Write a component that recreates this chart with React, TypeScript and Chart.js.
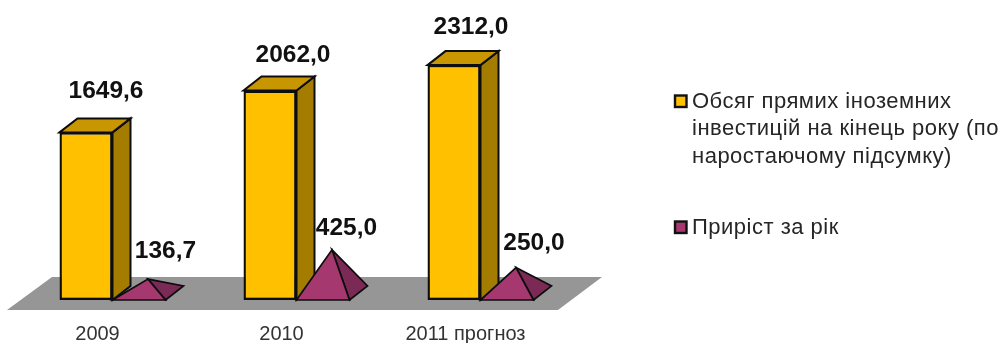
import React, { useEffect, useRef } from "react";
import { Chart, registerables } from "chart.js";

Chart.register(...registerables);

const categories = ["2009", "2010", "2011 прогноз"];
const investmentName = ["Обсяг прямих іноземних", "інвестицій на кінець року (по", "наростаючому підсумку)"];
const growthName = ["Приріст за рік"];
const investmentValues = [1649.6, 2062.0, 2312.0];
const growthValues = [136.7, 425.0, 250.0];

const barLabelNudge = [[20, -41.5], [23, -35], [17, -38]];
const pyramidLabelNudge = [[26.5, -28], [23.5, -22], [27, -24.5]];
const DEPTH_X = 18;
const DEPTH_Y = -14;
const PX_PER_UNIT = 0.1016;
const FONT = '"Liberation Sans", Arial, sans-serif';

const fmt = (v: number) => v.toFixed(1).replace(".", ",");

function poly(ctx: CanvasRenderingContext2D, pts: number[][], fill: string, lw: number, stroke = "#0d0d0d") {
  ctx.beginPath();
  pts.forEach((p, i) => (i ? ctx.lineTo(p[0], p[1]) : ctx.moveTo(p[0], p[1])));
  ctx.closePath();
  ctx.fillStyle = fill;
  ctx.fill();
  if (lw > 0) {
    ctx.lineWidth = lw;
    ctx.strokeStyle = stroke;
    ctx.lineJoin = "miter";
    ctx.stroke();
  }
}

const scene3d = {
  id: "scene3d",
  beforeDatasetsDraw(chart: any) {
    const { ctx, chartArea: a } = chart;
    const base = a.bottom;
    ctx.save();
    poly(ctx, [
      [a.left - 13.5, base + 10],
      [a.left + 31.5, base - 23],
      [a.right + 29.5, base - 23],
      [a.right - 14.5, base + 10],
    ], "#969696", 0);
    chart.getDatasetMeta(0).data.forEach((el: any) => {
      const l = el.x - el.width / 2;
      const r = el.x + el.width / 2;
      poly(ctx, [[r, el.y], [r + DEPTH_X, el.y + DEPTH_Y], [r + DEPTH_X, el.base + DEPTH_Y], [r, el.base]], "#A37C00", 2);
      poly(ctx, [[l, el.y], [l + DEPTH_X, el.y + DEPTH_Y], [r + DEPTH_X, el.y + DEPTH_Y], [r, el.y]], "#C79600", 2);
    });
    ctx.restore();
  },
  afterDatasetsDraw(chart: any) {
    const { ctx } = chart;
    ctx.save();
    chart.getDatasetMeta(1).data.forEach((el: any) => {
      const l = el.x - el.width / 2;
      const r = el.x + el.width / 2;
      const b = el.base;
      const ax = el.x + DEPTH_X / 2;
      const ay = el.y + DEPTH_Y / 2;
      const apex = [ax, ay];
      poly(ctx, [[r, b], [r + DEPTH_X, b + DEPTH_Y], apex], "#7B2A56", 1.7);
      poly(ctx, [[l, b], [r, b], apex], "#A5386F", 1.7);
    });
    ctx.textAlign = "center";
    ctx.textBaseline = "middle";
    ctx.fillStyle = "#111";
    ctx.font = `bold 24.5px ${FONT}`;
    chart.getDatasetMeta(0).data.forEach((el: any, i: number) => {
      ctx.fillText(fmt(investmentValues[i]), el.x + barLabelNudge[i][0], el.y + barLabelNudge[i][1]);
    });
    chart.getDatasetMeta(1).data.forEach((el: any, i: number) => {
      ctx.fillText(fmt(growthValues[i]), el.x + pyramidLabelNudge[i][0], el.y + DEPTH_Y / 2 + pyramidLabelNudge[i][1]);
    });
    ctx.restore();
  },
  afterDraw(chart: any) {
    const { ctx } = chart;
    ctx.save();
    ctx.font = `22px ${FONT}`;
    ctx.textAlign = "left";
    ctx.textBaseline = "middle";
    (ctx as any).letterSpacing = "0.5px";
    const entries = [
      { lines: investmentName, color: "#FFC000", y: 101 },
      { lines: growthName, color: "#A5386F", y: 227 },
    ];
    entries.forEach((e) => {
      ctx.fillStyle = e.color;
      ctx.strokeStyle = "#111";
      ctx.lineWidth = 2.4;
      ctx.fillRect(675, e.y - 5.5, 11.5, 11.5);
      ctx.strokeRect(675, e.y - 5.5, 11.5, 11.5);
      ctx.fillStyle = "#262626";
      e.lines.forEach((t, i) => ctx.fillText(t, 692, e.y + 0.5 + i * 27.5));
    });
    ctx.restore();
  },
};

export default function App() {
  const ref = useRef<HTMLCanvasElement>(null);
  useEffect(() => {
    const chart = new Chart(ref.current as HTMLCanvasElement, {
      type: "bar",
      data: {
        labels: categories,
        datasets: [
          {
            label: investmentName.join(" "),
            data: investmentValues,
            backgroundColor: "#FFC000",
            borderColor: "#0d0d0d",
            borderWidth: 2.4,
            borderSkipped: false,
          },
          {
            label: growthName.join(" "),
            data: growthValues,
            backgroundColor: "rgba(0,0,0,0)",
            borderWidth: 0,
          },
        ],
      },
      options: {
        responsive: false,
        animation: false,
        events: [],
        layout: { padding: { left: 20.5, right: 430.5, top: 10, bottom: 0 } },
        datasets: { bar: { barPercentage: 1, categoryPercentage: 106 / 184 } },
        plugins: { legend: { display: false }, tooltip: { enabled: false } },
        scales: {
          x: {
            grid: { display: false, drawTicks: false },
            border: { display: false },
            afterFit(scale: any) {
              scale.height = 43;
            },
            ticks: {
              autoSkip: false,
              maxRotation: 0,
              minRotation: 0,
              padding: 24.5,
              labelOffset: -15,
              color: "#333",
              font: { family: FONT, size: 20, lineHeight: 1 },
            },
          },
          y: { display: false, min: 0, max: 290 / PX_PER_UNIT },
        },
      } as any,
      plugins: [scene3d],
    });
    return () => chart.destroy();
  }, []);
  return (
    <div style={{ position: "fixed", left: 0, top: 0 }}>
      <canvas ref={ref} width={1003} height={343} style={{ display: "block", filter: "blur(0.5px)" }} />
    </div>
  );
}
